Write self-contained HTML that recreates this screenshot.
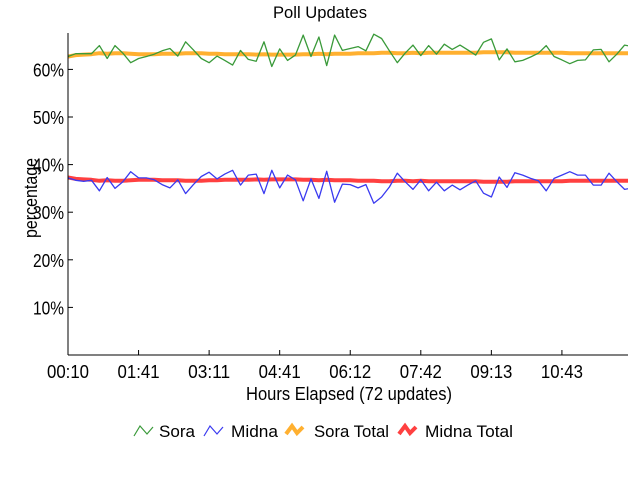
<!DOCTYPE html>
<html><head><meta charset="utf-8"><style>
body{margin:0;background:#fff}
svg{display:block;font-family:"Liberation Sans",sans-serif}
</style></head><body>
<svg id="chart" width="640" height="480">
<text x="320" y="18" text-anchor="middle" font-size="17" textLength="94" lengthAdjust="spacingAndGlyphs">Poll Updates</text>
<text transform="translate(37,198) rotate(-90)" text-anchor="middle" font-size="18" textLength="80" lengthAdjust="spacingAndGlyphs">percentage</text>
<text x="349" y="400" text-anchor="middle" font-size="18" textLength="206" lengthAdjust="spacingAndGlyphs">Hours Elapsed (72 updates)</text>
<g id="grid"></g><g id="series"></g><g id="axes"></g>
<g>
<g><polyline points="134,436 140,426 147,434 153,427" fill="none" stroke="#3a9a3a" stroke-width="1.2"/><text x="159" y="437" font-size="17" textLength="36" lengthAdjust="spacingAndGlyphs">Sora</text></g>
<g><polyline points="204,436 210,426 217,434 223,427" fill="none" stroke="#3a3af0" stroke-width="1.2"/><text x="231" y="437" font-size="17" textLength="47" lengthAdjust="spacingAndGlyphs">Midna</text></g>
<g><polyline points="286,434 292,426 297,433 303,427" fill="none" stroke="#ffb030" stroke-width="4"/><text x="314" y="437" font-size="17" textLength="75" lengthAdjust="spacingAndGlyphs">Sora Total</text></g>
<g><polyline points="399,434 405,426 410,433 416,427" fill="none" stroke="#ff4040" stroke-width="4"/><text x="425" y="437" font-size="17" textLength="88" lengthAdjust="spacingAndGlyphs">Midna Total</text></g>
</g>
</svg>
<script>
const xTickLabels=["00:10","01:41","03:11","04:41","06:12","07:42","09:13","10:43"];
const xTickIndex=[0,9,18,27,36,45,54,63];
const yTicks=[10,20,30,40,50,60];
const sora=[62.7,63.3,63.3,63.3,65.0,62.3,65.0,63.4,61.4,62.3,62.7,63.2,63.9,64.4,62.8,65.8,64.1,62.3,61.4,62.8,61.9,60.9,64.0,62.1,61.7,65.8,60.6,64.3,61.9,63.0,67.2,62.7,66.8,60.8,67.2,64.0,64.4,64.8,63.9,67.4,66.5,63.9,61.4,63.4,65.1,62.9,65.0,63.2,65.3,64.2,65.1,64.1,63.0,65.7,66.4,62.0,64.3,61.6,61.9,62.6,63.4,65.0,62.7,62.0,61.2,61.9,62.0,64.1,64.2,61.6,63.2,65.1,64.8];
const midna=[37.2,36.7,36.5,36.7,34.5,37.3,35.0,36.4,38.5,37.2,37.2,36.8,35.8,35.1,36.8,33.9,35.8,37.5,38.4,37.0,38.0,38.8,35.7,37.8,38.0,33.9,38.8,35.1,37.8,36.8,32.4,37.0,32.9,38.6,32.1,35.9,35.8,35.1,35.8,31.9,33.2,35.3,38.2,36.4,34.8,36.8,34.5,36.3,34.5,35.7,34.7,35.7,36.6,34.0,33.2,37.4,35.2,38.3,37.8,37.1,36.6,34.5,37.1,37.8,38.5,37.8,37.8,35.7,35.7,38.2,36.4,34.8,35.1];
const soraTotal=[62.7,63.0,63.1,63.2,63.4,63.3,63.4,63.4,63.3,63.2,63.2,63.2,63.3,63.3,63.3,63.4,63.4,63.4,63.3,63.3,63.2,63.2,63.2,63.2,63.1,63.2,63.1,63.1,63.1,63.1,63.2,63.2,63.3,63.2,63.3,63.3,63.3,63.4,63.4,63.4,63.5,63.5,63.4,63.4,63.5,63.4,63.5,63.5,63.5,63.5,63.5,63.5,63.5,63.6,63.6,63.6,63.6,63.5,63.5,63.5,63.5,63.5,63.5,63.5,63.4,63.4,63.4,63.4,63.4,63.4,63.4,63.4,63.4];
const midnaTotal=[37.3,37.0,36.9,36.8,36.6,36.7,36.6,36.6,36.7,36.8,36.8,36.8,36.7,36.7,36.7,36.6,36.6,36.6,36.7,36.7,36.8,36.8,36.8,36.8,36.9,36.8,36.9,36.9,36.9,36.9,36.8,36.8,36.7,36.8,36.7,36.7,36.7,36.6,36.6,36.6,36.5,36.5,36.6,36.6,36.5,36.6,36.5,36.5,36.5,36.5,36.5,36.5,36.5,36.4,36.4,36.4,36.4,36.5,36.5,36.5,36.5,36.5,36.5,36.5,36.6,36.6,36.6,36.6,36.6,36.6,36.6,36.6,36.6];
const NS="http://www.w3.org/2000/svg";
const X0=68,X1=628,Y0=355,PXP=4.76;
const step=7.84;
function xs(i){return X0+i*step;}
function ys(v){return Y0-v*PXP;}
function mk(t,a,p){const e=document.createElementNS(NS,t);for(const k in a)e.setAttribute(k,a[k]);p.appendChild(e);return e;}
const axes=document.getElementById('axes'),series=document.getElementById('series');
const xa=mk('line',{x1:X0,y1:Y0,x2:X1,y2:Y0,stroke:'#000','stroke-width':1},axes);


const ya=mk('line',{x1:X0,y1:33,x2:X0,y2:Y0,stroke:'#000','stroke-width':1},axes);


yTicks.forEach(v=>{
 const y=ys(v);
 mk('line',{x1:X0,y1:y,x2:X0+5,y2:y,stroke:'#000'},axes);
 const t=mk('text',{x:X0-4,y:y+7,'text-anchor':'end','font-size':18,textLength:v<10?22:31,lengthAdjust:'spacingAndGlyphs'},axes);
 t.textContent=v+'%';
 
 
});
xTickIndex.forEach((ix,k)=>{
 const x=xs(ix);
 mk('line',{x1:x,y1:Y0,x2:x,y2:Y0-5,stroke:'#000'},axes);
 const t=mk('text',{x:x,y:Y0+23,'text-anchor':'middle','font-size':18,textLength:42,lengthAdjust:'spacingAndGlyphs'},axes);
 t.textContent=xTickLabels[k];
 
 
});
const clip=mk('clipPath',{id:'pc'},mk('defs',{},series));
mk('rect',{x:X0,y:25,width:X1-X0,height:Y0-25},clip);
function line(arr,color,w,name){
 const pts=arr.map((v,i)=>xs(i).toFixed(1)+','+ys(v).toFixed(1)).join(' ');
 const p=mk('polyline',{points:pts,fill:'none',stroke:color,'stroke-width':w,'clip-path':'url(#pc)','stroke-linejoin':'round'},series);
 
 
}
line(soraTotal,'#ffb030',4,'sora-total-line');
line(midnaTotal,'#ff4040',4,'midna-total-line');
line(sora,'#3a9a3a',1.3,'sora-line');
line(midna,'#3a3af0',1.3,'midna-line');
</script>
</body></html>
